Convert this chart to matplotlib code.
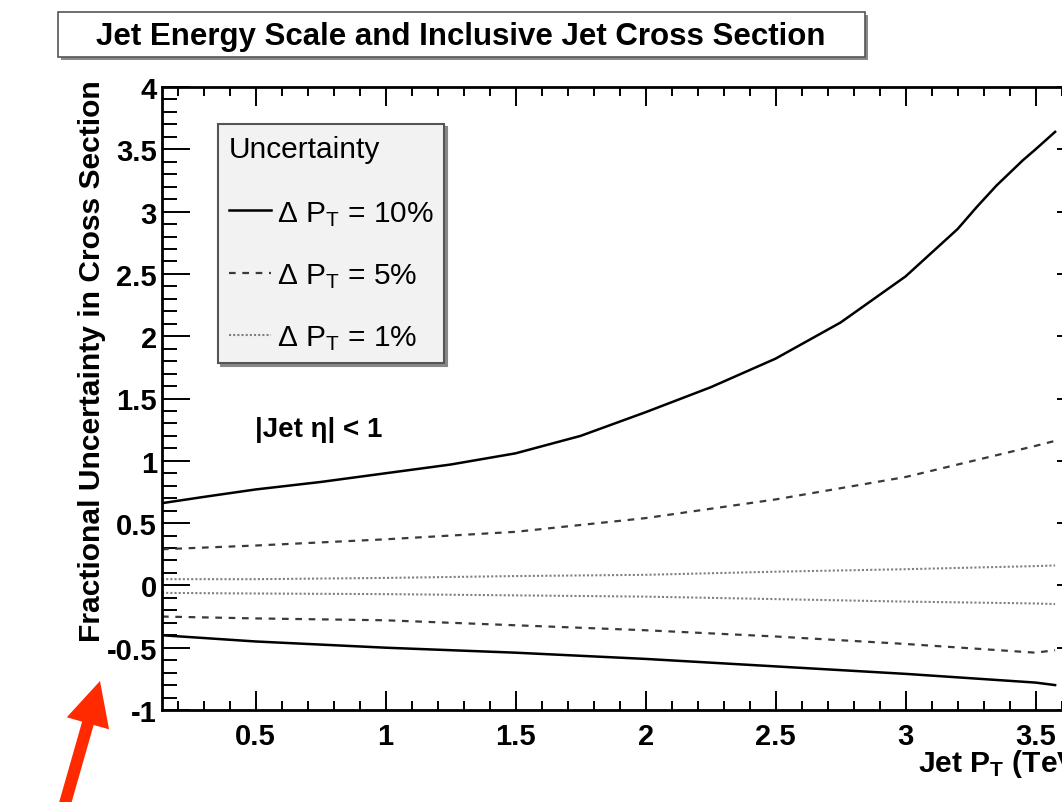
import matplotlib
matplotlib.use('Agg')
import matplotlib.pyplot as plt
from matplotlib.patches import Rectangle, FancyArrow

plt.rcParams['font.family'] = ['Liberation Sans', 'DejaVu Sans']
plt.rcParams['mathtext.default'] = 'regular'

x_up10 = [0.14, 0.3, 0.5, 0.75, 1.0, 1.25, 1.5, 1.75, 2.0, 2.25, 2.5, 2.75, 3.0, 3.1,
          3.2, 3.275, 3.35, 3.45, 3.5, 3.575]
up10 = [0.66, 0.71, 0.77, 0.83, 0.90, 0.97, 1.06, 1.20, 1.39, 1.59, 1.82, 2.11, 2.48, 2.67,
        2.86, 3.04, 3.21, 3.41, 3.50, 3.64]

x_pt = [0.14, 0.5, 1.0, 1.5, 2.0, 2.5, 3.0, 3.5, 3.575]
dn10 = [-0.40, -0.45, -0.50, -0.54, -0.59, -0.65, -0.71, -0.78, -0.80]
up5 = [0.29, 0.32, 0.37, 0.43, 0.54, 0.69, 0.87, 1.12, 1.16]
dn5 = [-0.25, -0.265, -0.28, -0.32, -0.36, -0.41, -0.47, -0.54, -0.52]
up1 = [0.05, 0.05, 0.06, 0.075, 0.085, 0.11, 0.13, 0.155, 0.16]
dn1 = [-0.06, -0.065, -0.07, -0.08, -0.09, -0.11, -0.13, -0.145, -0.15]

xticks = [0.5, 1, 1.5, 2, 2.5, 3, 3.5]
yticks = [-1, -0.5, 0, 0.5, 1, 1.5, 2, 2.5, 3, 3.5, 4]

W, H = 1062, 803
fig = plt.figure(figsize=(W / 100, H / 100), dpi=100)

# axes run past the right edge, like the cropped screenshot
ax = fig.add_axes([162 / W, 92 / H, 923 / W, 623 / H])
ax.set_xlim(0.14, 3.69)
ax.set_ylim(-1, 4)

ax.plot(x_up10, up10, color='black', lw=1.8, label='Δ P$_{T}$ = 10%')
ax.plot(x_pt, dn10, color='black', lw=1.8)
ax.plot(x_pt, up5, color='#3a3a3a', lw=1.6, linestyle=(0, (3, 3)), label='Δ P$_{T}$ = 5%')
ax.plot(x_pt, dn5, color='#3a3a3a', lw=1.6, linestyle=(0, (3, 3)))
ax.plot(x_pt, up1, color='#808080', lw=1.5, linestyle=(0, (1, 1)), label='Δ P$_{T}$ = 1%')
ax.plot(x_pt, dn1, color='#808080', lw=1.5, linestyle=(0, (1, 1)))

ax.set_xticks(xticks)
ax.set_xticklabels(['0.5', '1', '1.5', '2', '2.5', '3', '3.5'])
ax.set_yticks(yticks)
ax.set_yticklabels(['-1', '-0.5', '0', '0.5', '1', '1.5', '2', '2.5', '3', '3.5', '4'])
ax.set_xticks([i / 10 for i in range(2, 37)], minor=True)
ax.set_yticks([i / 10 - 1 for i in range(0, 51)], minor=True)
ax.tick_params(which='both', direction='in', top=True, right=True, width=1.4, colors='black')
ax.tick_params(axis='x', which='major', length=13.7, pad=8.5, labelsize=21)
ax.tick_params(axis='x', which='minor', length=6.5)
ax.tick_params(axis='y', which='major', length=20, pad=3.6, labelsize=21)
ax.tick_params(axis='y', which='minor', length=10.8)
for lab in ax.get_xticklabels() + ax.get_yticklabels():
    lab.set_fontweight('bold')
for s in ax.spines.values():
    s.set_linewidth(2)

ax.text(255 / W, 1 - 430 / H, '|Jet η| < 1', transform=fig.transFigure,
        fontsize=20, fontweight='bold', va='center', ha='left')

leg = ax.legend(title='Uncertainty', loc='upper left',
                bbox_to_anchor=(218 / W, 1 - 125 / H), bbox_transform=fig.transFigure,
                borderaxespad=0, fontsize=21.5, title_fontsize=21.5, alignment='left',
                frameon=True, fancybox=False, facecolor='#f2f2f2', edgecolor='#555555',
                framealpha=1, handlelength=1.4, handletextpad=0.2, borderpad=0.36,
                labelspacing=1.12, shadow={'color': '#888888', 'alpha': 1})
leg.get_frame().set_linewidth(1.5)
leg._legend_box.sep = 26

fig.text(92 / W, 1 - 361 / H, 'Fractional Uncertainty in Cross Section', rotation=90,
         fontsize=21.6, fontweight='bold', ha='center', va='center')
fig.text(918 / W, 1 - 764 / H, 'Jet P$_{T}$ (TeV)', fontsize=21.6, fontweight='bold',
         ha='left', va='center')

# overlay in pixel units for the title box and the red arrow
ov = fig.add_axes([0, 0, 1, 1], zorder=5)
ov.set_xlim(0, W)
ov.set_ylim(H, 0)
ov.axis('off')
ov.patch.set_alpha(0)
ov.add_patch(Rectangle((61, 16), 807, 45, facecolor='#8a8a8a', edgecolor='none'))
ov.add_patch(Rectangle((58, 13), 807, 45, facecolor='white', edgecolor='#555555', lw=1.2))
ov.text(461, 37, 'Jet Energy Scale and Inclusive Jet Cross Section', fontsize=22.5,
        fontweight='bold', ha='center', va='center')
ov.add_patch(FancyArrow(62, 815, 38, -133, width=12, head_width=44, head_length=44,
                        length_includes_head=True, color='#ff2a00', lw=0))

fig.savefig('out.png', dpi=100)
